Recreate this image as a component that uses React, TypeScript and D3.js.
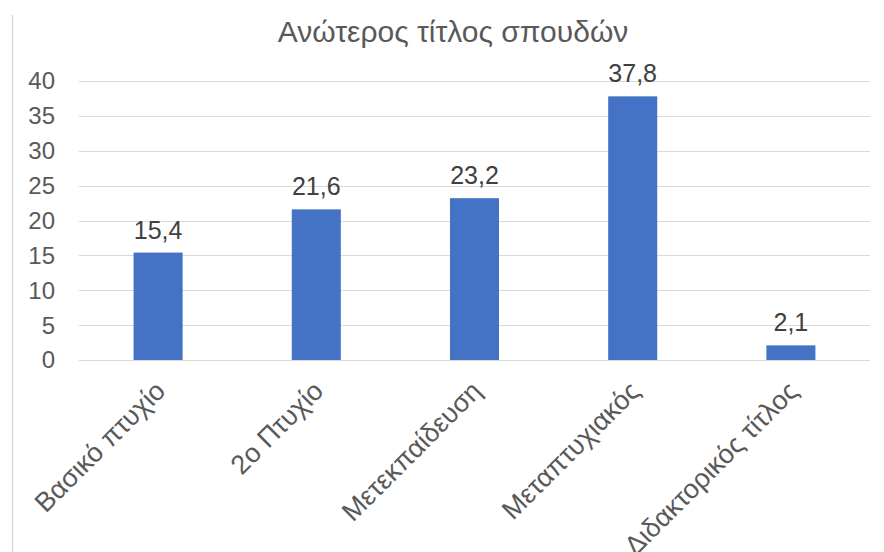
import React from "react";
import * as d3 from "d3";

const categories = ["Βασικό πτυχίο", "2ο Πτυχίο", "Μετεκπαίδευση", "Μεταπτυχιακός", "Διδακτορικός τίτλος"];
const values = [15.4, 21.6, 23.2, 37.8, 2.1];
const yTicks = [0, 5, 10, 15, 20, 25, 30, 35, 40];
const title = "Ανώτερος τίτλος σπουδών";

export default function App() {
  const W = 884, H = 552;
  const left = 79, right = 870, top = 81, bottom = 360;
  const x = d3.scaleBand<string>().domain(categories).range([left, right]).paddingInner(0.69).paddingOuter(0.345);
  const y = d3.scaleLinear().domain([0, 40]).range([bottom, top]);
  const font = "'Liberation Sans', Arial, sans-serif";
  const fmt = (v: number) => v.toFixed(1).replace(".", ",");
  return (
    <svg width={W} height={H} style={{ position: "absolute", left: 0, top: 0, background: "#fff" }} fontFamily={font}>
      <line x1={12.5} x2={12.5} y1={15} y2={H} stroke="#d9d9d9" strokeWidth={1.5} />
      <text x={453} y={42} textAnchor="middle" fontSize={30} fill="#595959">{title}</text>
      {yTicks.map((t) => (
        <g key={t}>
          <line x1={left} x2={right} y1={Math.round(y(t)) + 0.5} y2={Math.round(y(t)) + 0.5} stroke="#d9d9d9" strokeWidth={1} />
          <text x={55} y={y(t)} dy="0.35em" textAnchor="end" fontSize={24} fill="#595959">{t}</text>
        </g>
      ))}
      {categories.map((c, i) => (
        <g key={c}>
          <rect x={x(c)} y={y(values[i])} width={x.bandwidth()} height={bottom - y(values[i])} fill="#4472c4" />
          <text x={(x(c) as number) + x.bandwidth() / 2} y={y(values[i]) - 14} textAnchor="middle" fontSize={25} fill="#404040">{fmt(values[i])}</text>
          <text transform={`translate(${(x(c) as number) + x.bandwidth() / 2 + 2},${386}) rotate(-45)`} dy="0.35em" textAnchor="end" fontSize={27} fill="#595959">{c}</text>
        </g>
      ))}
    </svg>
  );
}
